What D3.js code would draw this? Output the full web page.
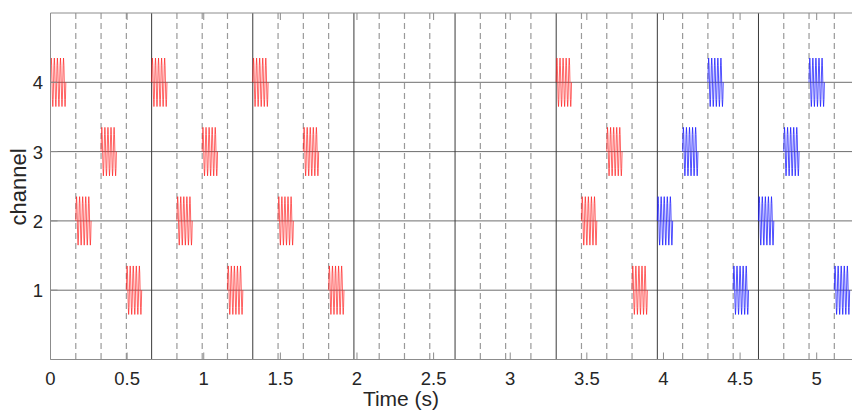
<!DOCTYPE html>
<html>
<head>
<meta charset="utf-8">
<script src="https://cdn.jsdelivr.net/npm/d3@7"></script>
<style>
  body { margin: 0; background: #fff; }
  svg { display: block; }
  text { font-family: "Liberation Sans", Arial, Helvetica, sans-serif; fill: #262626; }
</style>
</head>
<body>
<svg id="chart" width="852" height="412"></svg>
<script>
// ---- data ----
const xTicks = [0, 0.5, 1, 1.5, 2, 2.5, 3, 3.5, 4, 4.5, 5];
const xTickLabels = ["0", "0.5", "1", "1.5", "2", "2.5", "3", "3.5", "4", "4.5", "5"];
const yTicks = [1, 2, 3, 4];
const yTickLabels = ["1", "2", "3", "4"];
const cycleBoundaries = [0.66, 1.32, 1.98, 2.64, 3.30, 3.96, 4.62];           // solid lines
const slotBoundaries = [0.165, 0.33, 0.495, 0.825, 0.99, 1.155, 1.485, 1.65, 1.815,
  2.145, 2.31, 2.475, 2.805, 2.97, 3.135, 3.465, 3.63, 3.795,
  4.125, 4.29, 4.455, 4.785, 4.95, 5.115];                                    // dashed lines
const redOnsets   = [0, 0.165, 0.33, 0.495, 0.66, 0.825, 0.99, 1.155, 1.32, 1.485, 1.65, 1.815, 3.30, 3.465, 3.63, 3.795];
const redChannels = [4, 2, 3, 1, 4, 2, 3, 1, 4, 2, 3, 1, 4, 2, 3, 1];
const blueOnsets   = [3.96, 4.125, 4.29, 4.455, 4.62, 4.785, 4.95, 5.115];
const blueChannels = [2, 3, 4, 1, 2, 3, 4, 1];
// one cycle of the burst waveform (offset from channel line), sampled every 2.5 ms
const cycleShape = [0, 0.247, 0.35, 0.247, 0, -0.247, -0.35, -0.247];
const cyclePeriod = 0.02;
const cyclesPerBurst = 5;

(function () {
// ---- layout ----
const svg = d3.select("#chart");
const mLeft = 50.5, mTop = 13, mBottom = 359.5;
const pxPerSec = 153.24;
const xMax = 5.28;
const x = d3.scaleLinear().domain([0, xMax]).range([mLeft, mLeft + xMax * pxPerSec]);
const y = d3.scaleLinear().domain([0, 5]).range([mBottom, mTop]);

// horizontal grid lines
svg.append("g").selectAll("line").data(yTicks).join("line")
  .attr("x1", x(0)).attr("x2", x(xMax))
  .attr("y1", d => y(d)).attr("y2", d => y(d))
  .attr("stroke", "#6e6e6e").attr("stroke-width", 1);

// dashed vertical lines
svg.append("g").selectAll("line").data(slotBoundaries).join("line")
  .attr("x1", d => x(d)).attr("x2", d => x(d))
  .attr("y1", y(5)).attr("y2", y(0))
  .attr("stroke", "#9a9a9a").attr("stroke-width", 1.2)
  .attr("stroke-dasharray", "6,4");

// solid vertical lines
svg.append("g").selectAll("line").data(cycleBoundaries).join("line")
  .attr("x1", d => x(d)).attr("x2", d => x(d))
  .attr("y1", y(5)).attr("y2", y(0))
  .attr("stroke", "#3a3a3a").attr("stroke-width", 1);

// bursts
function burstPoints(t0, ch) {
  const pts = [];
  for (let c = 0; c < cyclesPerBurst; c++) {
    cycleShape.forEach((v, i) => {
      pts.push([t0 + c * cyclePeriod + i * cyclePeriod / cycleShape.length, ch + v]);
    });
  }
  pts.push([t0 + cyclesPerBurst * cyclePeriod, ch + cycleShape[0]]);
  return pts;
}
const line = d3.line().x(d => x(d[0])).y(d => y(d[1]));
const bursts = [];
redOnsets.forEach((t, i) => bursts.push({ t, ch: redChannels[i], color: "#ff1a1a", op: 0.75 }));
blueOnsets.forEach((t, i) => bursts.push({ t, ch: blueChannels[i], color: "#1a1aff", op: 0.85 }));
svg.append("g").selectAll("path").data(bursts).join("path")
  .attr("d", d => line(burstPoints(d.t, d.ch)))
  .attr("fill", "none")
  .attr("stroke", d => d.color)
  .attr("stroke-opacity", d => d.op)
  .attr("stroke-width", 0.9);

// axes box
const axisColor = "#8c8c8c";
svg.append("line").attr("x1", x(0)).attr("x2", x(xMax)).attr("y1", y(0)).attr("y2", y(0)).attr("stroke", axisColor);
svg.append("line").attr("x1", x(0)).attr("x2", x(xMax)).attr("y1", y(5)).attr("y2", y(5)).attr("stroke", axisColor);
svg.append("line").attr("x1", x(0)).attr("x2", x(0)).attr("y1", y(0)).attr("y2", y(5)).attr("stroke", axisColor);

// ticks (inward)
const tickLen = 7;
const xAxisG = svg.append("g");
xAxisG.selectAll("line.b").data(xTicks).join("line").attr("class", "b")
  .attr("x1", d => x(d)).attr("x2", d => x(d))
  .attr("y1", y(0)).attr("y2", y(0) - tickLen).attr("stroke", axisColor);
xAxisG.selectAll("line.t").data(xTicks).join("line").attr("class", "t")
  .attr("x1", d => x(d)).attr("x2", d => x(d))
  .attr("y1", y(5)).attr("y2", y(5) + tickLen).attr("stroke", axisColor);
xAxisG.selectAll("text").data(xTicks).join("text")
  .attr("x", d => x(d)).attr("y", y(0) + 25.5)
  .attr("text-anchor", "middle").attr("font-size", 18.5)
  .text((d, i) => xTickLabels[i]);

const yAxisG = svg.append("g");
yAxisG.selectAll("line").data(yTicks).join("line")
  .attr("x1", x(0)).attr("x2", x(0) + tickLen)
  .attr("y1", d => y(d)).attr("y2", d => y(d)).attr("stroke", axisColor);
yAxisG.selectAll("text").data(yTicks).join("text")
  .attr("x", x(0) - 7.5).attr("y", d => y(d) + 7)
  .attr("text-anchor", "end").attr("font-size", 18.5)
  .text((d, i) => yTickLabels[i]);

// axis labels
svg.append("text").attr("x", 401).attr("y", 406)
  .attr("text-anchor", "middle").attr("font-size", 21)
  .text("Time (s)");
svg.append("text").attr("transform", "translate(25.5,187) rotate(-90)")
  .attr("text-anchor", "middle").attr("font-size", 22)
  .text("channel");
})();
</script>
</body>
</html>
